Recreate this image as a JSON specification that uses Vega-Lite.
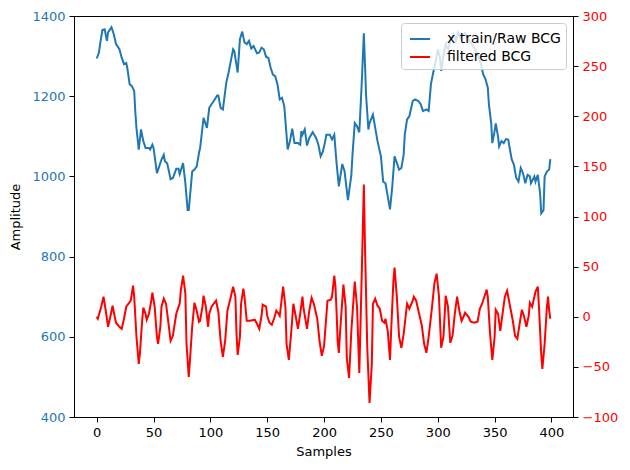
{
  "$schema": "https://vega.github.io/schema/vega-lite/v6.json",
  "width": 499,
  "height": 401,
  "autosize": {"type": "none"},
  "padding": {"left": 74, "top": 16, "right": 57, "bottom": 53},
  "background": "white",
  "config": {
    "view": {"stroke": "black", "strokeWidth": 1},
    "font": "DejaVu Sans",
    "axis": {
      "grid": false,
      "domainColor": "black",
      "tickColor": "black",
      "tickSize": 5,
      "labelFont": "DejaVu Sans",
      "labelFontSize": 13,
      "titleFont": "DejaVu Sans",
      "titleFontSize": 13,
      "titleFontWeight": "normal",
      "titleColor": "black",
      "labelPadding": 4
    },
    "legend": {
      "labelFont": "DejaVu Sans",
      "labelFontSize": 14,
      "labelColor": "black"
    }
  },
  "datasets": {
    "raw": [
      {"s": 0, "v": 1294}, {"s": 2, "v": 1309}, {"s": 3, "v": 1330}, {"s": 5, "v": 1365},
      {"s": 7, "v": 1367}, {"s": 9, "v": 1338}, {"s": 10, "v": 1359}, {"s": 13, "v": 1372},
      {"s": 15, "v": 1355}, {"s": 17, "v": 1330}, {"s": 20, "v": 1317}, {"s": 22, "v": 1296},
      {"s": 24, "v": 1280}, {"s": 26, "v": 1283}, {"s": 27, "v": 1269}, {"s": 29, "v": 1230},
      {"s": 31, "v": 1225}, {"s": 33, "v": 1213}, {"s": 34, "v": 1160}, {"s": 35, "v": 1120},
      {"s": 37, "v": 1067}, {"s": 39, "v": 1117}, {"s": 41, "v": 1088}, {"s": 43, "v": 1071},
      {"s": 46, "v": 1071}, {"s": 47, "v": 1067}, {"s": 49, "v": 1079}, {"s": 50, "v": 1071},
      {"s": 53, "v": 1008}, {"s": 55, "v": 1025}, {"s": 57, "v": 1042}, {"s": 59, "v": 1054},
      {"s": 60, "v": 1038}, {"s": 62, "v": 1033}, {"s": 65, "v": 993}, {"s": 67, "v": 996},
      {"s": 70, "v": 1019}, {"s": 72, "v": 1019}, {"s": 73, "v": 1006}, {"s": 76, "v": 1033},
      {"s": 78, "v": 983}, {"s": 80, "v": 916}, {"s": 81, "v": 916}, {"s": 84, "v": 1012},
      {"s": 86, "v": 1017}, {"s": 88, "v": 1025}, {"s": 90, "v": 1059}, {"s": 91, "v": 1071},
      {"s": 94, "v": 1146}, {"s": 97, "v": 1121}, {"s": 99, "v": 1171}, {"s": 101, "v": 1180},
      {"s": 103, "v": 1188}, {"s": 106, "v": 1202}, {"s": 107, "v": 1202}, {"s": 109, "v": 1171},
      {"s": 111, "v": 1167}, {"s": 114, "v": 1234}, {"s": 116, "v": 1259}, {"s": 118, "v": 1288},
      {"s": 120, "v": 1317}, {"s": 121, "v": 1313}, {"s": 124, "v": 1259}, {"s": 126, "v": 1342},
      {"s": 128, "v": 1361}, {"s": 130, "v": 1334}, {"s": 132, "v": 1330}, {"s": 134, "v": 1338},
      {"s": 136, "v": 1319}, {"s": 138, "v": 1325}, {"s": 141, "v": 1307}, {"s": 143, "v": 1309},
      {"s": 145, "v": 1321}, {"s": 147, "v": 1317}, {"s": 149, "v": 1298}, {"s": 151, "v": 1296},
      {"s": 153, "v": 1271}, {"s": 155, "v": 1254}, {"s": 157, "v": 1250}, {"s": 159, "v": 1230},
      {"s": 161, "v": 1192}, {"s": 163, "v": 1196}, {"s": 165, "v": 1175}, {"s": 168, "v": 1067},
      {"s": 170, "v": 1088}, {"s": 172, "v": 1119}, {"s": 174, "v": 1083}, {"s": 177, "v": 1083},
      {"s": 179, "v": 1079}, {"s": 180, "v": 1113}, {"s": 181, "v": 1104}, {"s": 183, "v": 1117},
      {"s": 185, "v": 1077}, {"s": 187, "v": 1096}, {"s": 190, "v": 1110}, {"s": 193, "v": 1096},
      {"s": 195, "v": 1079}, {"s": 197, "v": 1050}, {"s": 199, "v": 1062}, {"s": 201, "v": 1088},
      {"s": 202, "v": 1104}, {"s": 205, "v": 1104}, {"s": 207, "v": 1092}, {"s": 209, "v": 1104},
      {"s": 211, "v": 1033}, {"s": 213, "v": 975}, {"s": 216, "v": 1031}, {"s": 218, "v": 1013},
      {"s": 221, "v": 941}, {"s": 224, "v": 1004}, {"s": 225, "v": 1054}, {"s": 227, "v": 1133},
      {"s": 229, "v": 1125}, {"s": 231, "v": 1110}, {"s": 233, "v": 1225}, {"s": 235, "v": 1357},
      {"s": 237, "v": 1200}, {"s": 239, "v": 1117}, {"s": 240, "v": 1133}, {"s": 243, "v": 1154},
      {"s": 245, "v": 1121}, {"s": 247, "v": 1088}, {"s": 250, "v": 1050}, {"s": 252, "v": 987},
      {"s": 254, "v": 983}, {"s": 256, "v": 950}, {"s": 258, "v": 918}, {"s": 260, "v": 975},
      {"s": 262, "v": 1050}, {"s": 263, "v": 1042}, {"s": 266, "v": 1017}, {"s": 268, "v": 1021},
      {"s": 270, "v": 1054}, {"s": 271, "v": 1104}, {"s": 273, "v": 1142}, {"s": 275, "v": 1150},
      {"s": 278, "v": 1188}, {"s": 280, "v": 1192}, {"s": 283, "v": 1188}, {"s": 285, "v": 1180},
      {"s": 287, "v": 1163}, {"s": 290, "v": 1167}, {"s": 292, "v": 1163}, {"s": 294, "v": 1230},
      {"s": 296, "v": 1259}, {"s": 298, "v": 1284}, {"s": 300, "v": 1317}, {"s": 302, "v": 1296},
      {"s": 303, "v": 1263}, {"s": 305, "v": 1300}, {"s": 307, "v": 1330}, {"s": 309, "v": 1317},
      {"s": 312, "v": 1346}, {"s": 314, "v": 1355}, {"s": 316, "v": 1338}, {"s": 318, "v": 1359},
      {"s": 320, "v": 1346}, {"s": 324, "v": 1357}, {"s": 326, "v": 1346}, {"s": 329, "v": 1334},
      {"s": 332, "v": 1321}, {"s": 335, "v": 1305}, {"s": 338, "v": 1280}, {"s": 340, "v": 1254},
      {"s": 342, "v": 1242}, {"s": 344, "v": 1221}, {"s": 345, "v": 1179}, {"s": 347, "v": 1133},
      {"s": 348, "v": 1083}, {"s": 350, "v": 1113}, {"s": 351, "v": 1132}, {"s": 353, "v": 1100},
      {"s": 354, "v": 1075}, {"s": 356, "v": 1088}, {"s": 358, "v": 1083}, {"s": 360, "v": 1093},
      {"s": 362, "v": 1092}, {"s": 363, "v": 1075}, {"s": 365, "v": 1043}, {"s": 367, "v": 1029},
      {"s": 369, "v": 996}, {"s": 371, "v": 987}, {"s": 373, "v": 1021}, {"s": 375, "v": 1008},
      {"s": 377, "v": 983}, {"s": 379, "v": 1004}, {"s": 381, "v": 1000}, {"s": 382, "v": 983},
      {"s": 385, "v": 1000}, {"s": 386, "v": 987}, {"s": 388, "v": 1004}, {"s": 390, "v": 958},
      {"s": 391, "v": 908}, {"s": 393, "v": 916}, {"s": 394, "v": 1000}, {"s": 396, "v": 1012},
      {"s": 398, "v": 1017}, {"s": 399, "v": 1043}
    ],
    "filtered": [
      {"s": 0, "f": 0}, {"s": 1, "f": -2}, {"s": 4, "f": 10}, {"s": 6, "f": 20},
      {"s": 8, "f": 6}, {"s": 10, "f": -10}, {"s": 12, "f": 0}, {"s": 14, "f": 11},
      {"s": 15, "f": 5}, {"s": 17, "f": -6}, {"s": 20, "f": -10}, {"s": 22, "f": -12},
      {"s": 24, "f": -2}, {"s": 26, "f": 10}, {"s": 28, "f": 13}, {"s": 30, "f": 16},
      {"s": 32, "f": 31}, {"s": 33, "f": 20}, {"s": 35, "f": -20}, {"s": 37, "f": -47},
      {"s": 38, "f": -37}, {"s": 40, "f": -4}, {"s": 41, "f": 9}, {"s": 43, "f": 3},
      {"s": 44, "f": -3}, {"s": 46, "f": 3}, {"s": 48, "f": 16}, {"s": 49, "f": 24},
      {"s": 51, "f": 10}, {"s": 53, "f": -20}, {"s": 54, "f": -27}, {"s": 56, "f": -10},
      {"s": 57, "f": 10}, {"s": 59, "f": 18}, {"s": 61, "f": 13}, {"s": 63, "f": -5},
      {"s": 65, "f": -24}, {"s": 67, "f": -19}, {"s": 70, "f": 3}, {"s": 72, "f": 10},
      {"s": 73, "f": 13}, {"s": 74, "f": 26}, {"s": 76, "f": 41}, {"s": 78, "f": 23},
      {"s": 79, "f": -27}, {"s": 81, "f": -60}, {"s": 82, "f": -44}, {"s": 84, "f": -10},
      {"s": 86, "f": 14}, {"s": 88, "f": 6}, {"s": 90, "f": -5}, {"s": 91, "f": -4},
      {"s": 93, "f": 10}, {"s": 94, "f": 21}, {"s": 96, "f": 10}, {"s": 98, "f": -10},
      {"s": 99, "f": 3}, {"s": 101, "f": 10}, {"s": 103, "f": 13}, {"s": 105, "f": 16},
      {"s": 107, "f": 5}, {"s": 109, "f": -24}, {"s": 111, "f": -40}, {"s": 113, "f": -24},
      {"s": 115, "f": 6}, {"s": 118, "f": 20}, {"s": 120, "f": 30}, {"s": 122, "f": 20},
      {"s": 123, "f": -17}, {"s": 124, "f": -38}, {"s": 126, "f": -20}, {"s": 127, "f": 13},
      {"s": 129, "f": 28}, {"s": 130, "f": 20}, {"s": 132, "f": -4}, {"s": 135, "f": -4},
      {"s": 139, "f": -3}, {"s": 141, "f": -7}, {"s": 143, "f": -12}, {"s": 145, "f": 1},
      {"s": 146, "f": 12}, {"s": 149, "f": 10}, {"s": 150, "f": 1}, {"s": 152, "f": -6},
      {"s": 154, "f": -8}, {"s": 156, "f": -2}, {"s": 158, "f": 6}, {"s": 160, "f": 3},
      {"s": 161, "f": 1}, {"s": 163, "f": 20}, {"s": 164, "f": 30}, {"s": 166, "f": 10},
      {"s": 167, "f": -27}, {"s": 169, "f": -43}, {"s": 171, "f": -17}, {"s": 173, "f": 13},
      {"s": 175, "f": 1}, {"s": 177, "f": -12}, {"s": 179, "f": 3}, {"s": 181, "f": 20},
      {"s": 182, "f": 8}, {"s": 185, "f": -12}, {"s": 187, "f": 6}, {"s": 189, "f": 19},
      {"s": 191, "f": 13}, {"s": 194, "f": -2}, {"s": 196, "f": -24}, {"s": 198, "f": -39},
      {"s": 200, "f": -29}, {"s": 202, "f": 1}, {"s": 203, "f": 16}, {"s": 206, "f": 17},
      {"s": 207, "f": 20}, {"s": 209, "f": 41}, {"s": 210, "f": 30}, {"s": 211, "f": 5},
      {"s": 212, "f": -25}, {"s": 213, "f": -36}, {"s": 214, "f": -17}, {"s": 217, "f": 32},
      {"s": 219, "f": 10}, {"s": 220, "f": -41}, {"s": 222, "f": -61}, {"s": 224, "f": -14},
      {"s": 227, "f": 35}, {"s": 229, "f": 10}, {"s": 231, "f": -56}, {"s": 233, "f": 36},
      {"s": 235, "f": 132}, {"s": 236, "f": 70}, {"s": 238, "f": -31}, {"s": 240, "f": -86},
      {"s": 242, "f": -47}, {"s": 243, "f": 13}, {"s": 245, "f": 18}, {"s": 247, "f": 11},
      {"s": 249, "f": 8}, {"s": 251, "f": -4}, {"s": 253, "f": -6}, {"s": 254, "f": -2},
      {"s": 256, "f": -14}, {"s": 258, "f": -43}, {"s": 259, "f": -14}, {"s": 261, "f": 36},
      {"s": 262, "f": 49}, {"s": 264, "f": 20}, {"s": 266, "f": -20}, {"s": 268, "f": -31},
      {"s": 270, "f": -17}, {"s": 272, "f": 3}, {"s": 273, "f": 13}, {"s": 275, "f": 8},
      {"s": 278, "f": 16}, {"s": 279, "f": 20}, {"s": 281, "f": 16}, {"s": 283, "f": 6},
      {"s": 286, "f": -9}, {"s": 288, "f": -27}, {"s": 290, "f": -36}, {"s": 292, "f": -20},
      {"s": 295, "f": 10}, {"s": 297, "f": 33}, {"s": 299, "f": 43}, {"s": 301, "f": 21},
      {"s": 303, "f": -31}, {"s": 305, "f": -20}, {"s": 307, "f": 21}, {"s": 309, "f": 10},
      {"s": 311, "f": -26}, {"s": 313, "f": -19}, {"s": 315, "f": 3}, {"s": 317, "f": 20},
      {"s": 319, "f": 6}, {"s": 321, "f": -4}, {"s": 323, "f": 1}, {"s": 324, "f": 4},
      {"s": 327, "f": 0}, {"s": 329, "f": -5}, {"s": 332, "f": -6}, {"s": 335, "f": -5},
      {"s": 337, "f": 8}, {"s": 339, "f": 13}, {"s": 341, "f": 20}, {"s": 343, "f": 27},
      {"s": 344, "f": 20}, {"s": 346, "f": -17}, {"s": 348, "f": -43}, {"s": 350, "f": -20},
      {"s": 351, "f": 7}, {"s": 353, "f": 3}, {"s": 355, "f": -14}, {"s": 357, "f": 3},
      {"s": 359, "f": 20}, {"s": 361, "f": 26}, {"s": 363, "f": 14}, {"s": 366, "f": -4},
      {"s": 368, "f": -19}, {"s": 370, "f": -22}, {"s": 372, "f": -7}, {"s": 374, "f": 7},
      {"s": 376, "f": 0}, {"s": 378, "f": -10}, {"s": 380, "f": 1}, {"s": 381, "f": 14},
      {"s": 383, "f": 10}, {"s": 385, "f": 20}, {"s": 386, "f": 25}, {"s": 388, "f": 30},
      {"s": 389, "f": 10}, {"s": 391, "f": -37}, {"s": 392, "f": -52}, {"s": 394, "f": -27},
      {"s": 396, "f": 10}, {"s": 397, "f": 20}, {"s": 398, "f": 6}, {"s": 399, "f": -2}
    ]
  },
  "encoding": {
    "x": {
      "field": "s",
      "type": "quantitative",
      "scale": {"domain": [-19.95, 418.95], "nice": false, "zero": false},
      "axis": {"title": "Samples", "values": [0, 50, 100, 150, 200, 250, 300, 350, 400], "format": "d", "labelColor": "black", "titlePadding": 6}
    }
  },
  "layer": [
    {
      "data": {"name": "raw"},
      "mark": {"type": "line", "strokeWidth": 2, "interpolate": "linear"},
      "encoding": {
        "y": {
          "field": "v",
          "type": "quantitative",
          "scale": {"domain": [400, 1400], "nice": false, "zero": false},
          "axis": {
            "orient": "left",
            "title": "Amplitude",
            "values": [400, 600, 800, 1000, 1200, 1400],
            "format": "d",
            "labelColor": "#1f77b4",
            "titlePadding": 9
          }
        },
        "color": {
          "datum": "x train/Raw BCG",
          "type": "nominal",
          "scale": {"domain": ["x train/Raw BCG", "filtered BCG"], "range": ["#1f77b4", "#ff0000"]},
          "legend": {
            "title": null,
            "orient": "top-right",
            "offset": 7,
            "symbolType": "M-1,0H1",
            "symbolStrokeWidth": 2,
            "symbolSize": 400,
            "symbolOffset": 3,
            "labelOffset": 16,
            "fillColor": "rgba(255,255,255,0.8)",
            "strokeColor": "#cccccc",
            "cornerRadius": 3,
            "padding": 5,
            "rowPadding": -2
          }
        }
      }
    },
    {
      "data": {"name": "filtered"},
      "mark": {"type": "line", "strokeWidth": 2, "interpolate": "linear"},
      "encoding": {
        "y": {
          "field": "f",
          "type": "quantitative",
          "scale": {"domain": [-100, 300], "nice": false, "zero": false},
          "axis": {
            "orient": "right",
            "title": null,
            "values": [-100, -50, 0, 50, 100, 150, 200, 250, 300],
            "format": "d",
            "labelColor": "#ff0000"
          }
        },
        "color": {"datum": "filtered BCG", "type": "nominal"}
      }
    }
  ],
  "resolve": {"scale": {"y": "independent"}}
}
